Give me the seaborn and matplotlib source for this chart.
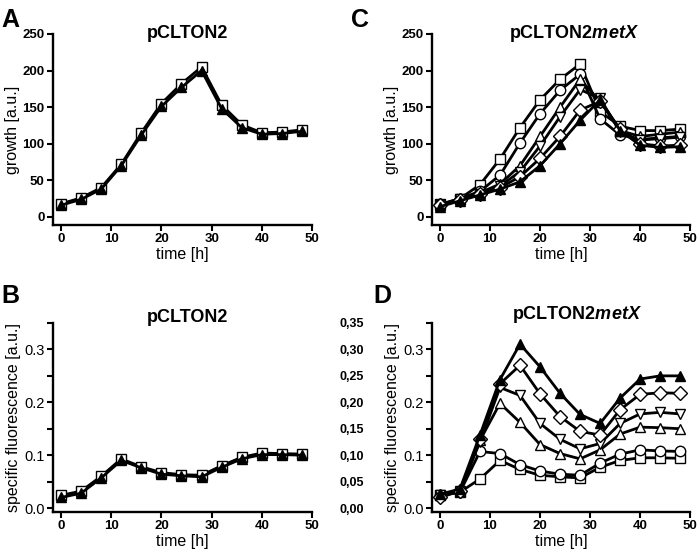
import numpy as np
import pandas as pd
import matplotlib
matplotlib.use("Agg")
import matplotlib.pyplot as plt
import matplotlib.ticker as mticker
import seaborn as sns

# ==========================================
# DATA
# ==========================================

time_h = [0, 4, 8, 12, 16, 20, 24, 28, 32, 36, 40, 44, 48]

# panel A - pCLTON2 growth
a_square = [18, 26, 40, 72, 115, 155, 182, 205, 153, 126, 115, 116, 119]
a_tri_filled = [16, 24, 38, 70, 112, 151, 177, 200, 148, 122, 113, 114, 117]

# panel B - pCLTON2 specific fluorescence
b_square = [0.024, 0.032, 0.060, 0.093, 0.078, 0.067, 0.063, 0.062, 0.080, 0.096, 0.104, 0.103, 0.102]
b_tri_filled = [0.020, 0.028, 0.057, 0.090, 0.076, 0.064, 0.061, 0.059, 0.077, 0.093, 0.101, 0.101, 0.100]

# panel C - pCLTON2metX growth
c_square = [17, 25, 44, 79, 122, 160, 188, 209, 144, 124, 118, 118, 120]
c_circle = [17, 25, 35, 57, 101, 141, 173, 195, 134, 112, 106, 108, 110]
c_tri_up = [16, 24, 33, 45, 70, 110, 150, 188, 158, 118, 110, 113, 116]
c_tri_down = [16, 24, 32, 42, 62, 97, 137, 174, 162, 116, 105, 107, 109]
c_diamond = [16, 23, 31, 40, 55, 80, 110, 146, 158, 120, 100, 97, 98]
c_tri_filled = [14, 22, 30, 38, 48, 70, 100, 132, 160, 118, 98, 95, 96]

# panel D - pCLTON2metX specific fluorescence
d_square = [0.024, 0.030, 0.055, 0.090, 0.073, 0.062, 0.059, 0.057, 0.077, 0.090, 0.095, 0.095, 0.094]
d_circle = [0.024, 0.030, 0.107, 0.103, 0.082, 0.070, 0.064, 0.062, 0.085, 0.102, 0.110, 0.108, 0.107]
d_tri_up = [0.024, 0.033, 0.128, 0.198, 0.162, 0.120, 0.103, 0.093, 0.110, 0.140, 0.153, 0.152, 0.150]
d_tri_down = [0.024, 0.033, 0.125, 0.228, 0.213, 0.160, 0.130, 0.112, 0.122, 0.160, 0.178, 0.181, 0.178]
d_diamond = [0.020, 0.032, 0.130, 0.235, 0.270, 0.216, 0.173, 0.145, 0.138, 0.186, 0.215, 0.218, 0.217]
d_tri_filled = [0.026, 0.036, 0.138, 0.243, 0.310, 0.267, 0.217, 0.177, 0.160, 0.208, 0.244, 0.250, 0.250]

right_labels = [0.00, 0.05, 0.10, 0.15, 0.20, 0.25, 0.30, 0.35]

# ==========================================
# STYLE
# ==========================================

sns.set_style("ticks")
plt.rcParams["font.family"] = ["Liberation Sans", "DejaVu Sans"]
plt.rcParams["mathtext.fontset"] = "custom"
plt.rcParams["mathtext.bfit"] = "Liberation Sans:italic:bold"
for key in ["text.color", "axes.labelcolor", "xtick.color", "ytick.color", "axes.edgecolor"]:
    plt.rcParams[key] = "black"
plt.rcParams["axes.linewidth"] = 1.7
plt.rcParams["xtick.major.width"] = 1.5
plt.rcParams["ytick.major.width"] = 1.5
plt.rcParams["ytick.minor.width"] = 1.5
plt.rcParams["xtick.major.size"] = 4
plt.rcParams["ytick.major.size"] = 4
plt.rcParams["ytick.minor.size"] = 4

fig = plt.figure(figsize=(7.0, 5.51), dpi=100)

ax_a = fig.add_axes([0.0757, 0.5917, 0.370, 0.3466])
ax_c = fig.add_axes([0.617, 0.5917, 0.369, 0.3466])
ax_b = fig.add_axes([0.0757, 0.0708, 0.370, 0.343])
ax_d = fig.add_axes([0.617, 0.0708, 0.369, 0.343])


def draw(ax, ys, marker, filled):
    sns.lineplot(
        x=time_h, y=ys, ax=ax,
        color="black", linewidth=2.0,
        marker=marker, markersize=7.5,
        markerfacecolor="black" if filled else "white",
        markeredgecolor="black", markeredgewidth=1.0,
    )


def style_axes(ax, growth):
    sns.despine(ax=ax)
    ax.set_xlim(-1.6, 50)
    ax.set_xticks([0, 10, 20, 30, 40, 50])
    ax.set_xlabel("time [h]", fontsize=11.5, labelpad=1)
    ax.tick_params(axis="both", labelsize=9.5, pad=2)
    for lab in ax.get_xticklabels():
        lab.set_fontweight("bold")
    if growth:
        ax.set_ylim(-11, 250)
        ax.set_yticks([0, 50, 100, 150, 200, 250])
        ax.set_ylabel("growth [a.u.]", fontsize=11.5, labelpad=2)
        for lab in ax.get_yticklabels():
            lab.set_fontweight("bold")
    else:
        ax.set_ylim(-0.0075, 0.35)
        ax.yaxis.set_major_locator(mticker.FixedLocator([0.0, 0.1, 0.2, 0.3]))
        ax.yaxis.set_minor_locator(mticker.FixedLocator([0.05, 0.15, 0.25, 0.35]))
        ax.yaxis.set_major_formatter(mticker.FormatStrFormatter("%.1f"))
        ax.set_ylabel("specific fluorescence [a.u.]", fontsize=11.5, labelpad=2)
        ax.tick_params(axis="y", labelsize=10.5)


# ==========================================
# PANEL A
# ==========================================

draw(ax_a, a_square, "s", False)
draw(ax_a, a_tri_filled, "^", True)
style_axes(ax_a, True)
ax_a.text(0.52, 1.0, "pCLTON2", transform=ax_a.transAxes, ha="center",
          va="center", fontsize=13, fontweight="bold")

# ==========================================
# PANEL B
# ==========================================

draw(ax_b, b_square, "s", False)
draw(ax_b, b_tri_filled, "^", True)
style_axes(ax_b, False)
ax_b.text(0.52, 1.03, "pCLTON2", transform=ax_b.transAxes, ha="center",
          va="center", fontsize=13, fontweight="bold")

# stray right-hand tick labels of panel B
ax_b2 = ax_b.twinx()
ax_b2.set_ylim(ax_b.get_ylim())
ax_b2.set_yticks(right_labels)
ax_b2.set_yticklabels([f"{v:.2f}".replace(".", ",") for v in right_labels],
                      fontweight="bold", fontsize=9)
ax_b2.tick_params(axis="y", length=0, pad=20)
for s in ax_b2.spines.values():
    s.set_visible(False)

# ==========================================
# PANEL C
# ==========================================

draw(ax_c, c_square, "s", False)
draw(ax_c, c_circle, "o", False)
draw(ax_c, c_tri_up, "^", False)
draw(ax_c, c_tri_down, "v", False)
draw(ax_c, c_diamond, "D", False)
draw(ax_c, c_tri_filled, "^", True)
style_axes(ax_c, True)
ax_c.text(0.55, 1.0, r"pCLTON2$\mathbfit{metX}$", transform=ax_c.transAxes,
          ha="center", va="center", fontsize=13, fontweight="bold")

# ==========================================
# PANEL D
# ==========================================

draw(ax_d, d_square, "s", False)
draw(ax_d, d_circle, "o", False)
draw(ax_d, d_tri_up, "^", False)
draw(ax_d, d_tri_down, "v", False)
draw(ax_d, d_diamond, "D", False)
draw(ax_d, d_tri_filled, "^", True)
style_axes(ax_d, False)
ax_d.text(0.56, 1.045, r"pCLTON2$\mathbfit{metX}$", transform=ax_d.transAxes,
          ha="center", va="center", fontsize=13, fontweight="bold")

# ==========================================
# PANEL LETTERS
# ==========================================

fig.text(0.002, 0.985, "A", fontsize=18, fontweight="bold", va="top")
fig.text(0.502, 0.985, "C", fontsize=18, fontweight="bold", va="top")
fig.text(0.002, 0.485, "B", fontsize=18, fontweight="bold", va="top")
fig.text(0.533, 0.485, "D", fontsize=18, fontweight="bold", va="top")

plt.savefig("out.png", dpi=100)
